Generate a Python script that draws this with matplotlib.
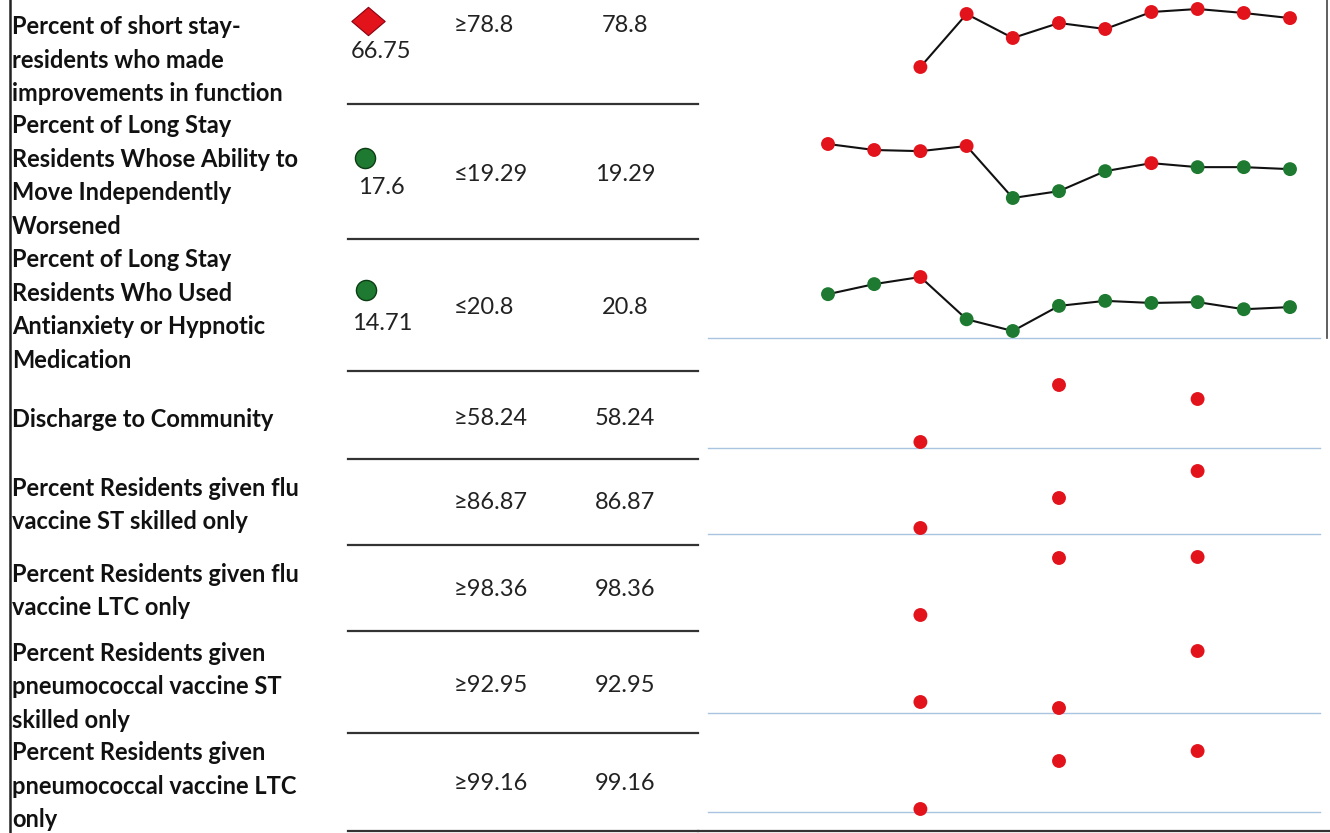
import numpy as np
import matplotlib
matplotlib.use("Agg")
import matplotlib.pyplot as plt
from matplotlib.path import Path

plt.rcParams['font.family'] = ['Lato', 'DejaVu Sans']

# 指标名称
measures = [
    "Percent of short stay-\nresidents who made\nimprovements in function",
    "Percent of Long Stay\nResidents Whose Ability to\nMove Independently\nWorsened",
    "Percent of Long Stay\nResidents Who Used\nAntianxiety or Hypnotic\nMedication",
    "Discharge to Community",
    "Percent Residents given flu\nvaccine ST skilled only",
    "Percent Residents given flu\nvaccine LTC only",
    "Percent Residents given\npneumococcal vaccine ST\nskilled only",
    "Percent Residents given\npneumococcal vaccine LTC\nonly",
]
current = ["66.75", "17.6", "14.71", "", "", "", "", ""]
status = ["bad", "good", "good", "", "", "", "", ""]
direction = [">=", "<=", "<=", ">=", ">=", ">=", ">=", ">="]
targets = [78.8, 19.29, 20.8, 58.24, 86.87, 98.36, 92.95, 99.16]
target_text = ["78.8", "19.29", "20.8", "58.24", "86.87", "98.36", "92.95", "99.16"]

nan = np.nan
# 每季度数值（11期）
trend_1 = [nan, nan, 42.3, 68.8, 56.8, 64.3, 61.3, 69.8, 71.3, 69.3, 66.75]
trend_2 = [26.4, 24.3, 23.9, 25.7, 7.5, 9.9, 16.9, 19.7, 18.3, 18.3, 17.6]
trend_3 = [17.8, 20.2, 21.9, 11.8, 9.0, 15.0, 16.2, 15.7, 15.9, 14.2, 14.71]
trend_4 = [nan, nan, 38.6, nan, nan, 50.0, nan, nan, 47.2, nan, nan]
trend_5 = [nan, nan, 78.3, nan, nan, 81.3, nan, nan, 84.0, nan, nan]
trend_6 = [nan, nan, 91.7, nan, nan, 97.4, nan, nan, 97.5, nan, nan]
trend_7 = [nan, nan, 84.9, nan, nan, 84.3, nan, nan, 90.0, nan, nan]
trend_8 = [nan, nan, 92.7, nan, nan, 97.5, nan, nan, 98.5, nan, nan]
trends = [trend_1, trend_2, trend_3, trend_4, trend_5, trend_6, trend_7, trend_8]
connected = [True, True, True, False, False, False, False, False]

RED = "#e3131c"
GREEN = "#1d7a30"

W, H = 1330, 833
fig = plt.figure(figsize=(W / 100, H / 100), dpi=100)
ax = fig.add_axes([0, 0, 1, 1])
ax.set_xlim(0, W)
ax.set_ylim(H, 0)
ax.axis("off")

# 表格布局（像素）
label_y = [60, 176, 310, 419, 505, 591, 687, 786]
target_y = [25, 174, 307, 418, 502, 589, 686, 783]
rules_y = [104, 239, 371, 459, 545, 631, 733, 831]
spark_band = [(9, 67), (144, 198), (277, 331), (385, 442),
              (471, 528), (557, 615), (651, 708), (751, 809)]
blue_lines = [338, 448, 534, 713, 812]

ax.plot([10, 10], [0, 833], color="#222222", lw=1.8)
ax.plot([1327, 1327], [0, 338], color="#444444", lw=1.2)
for y in rules_y:
    ax.plot([348, 698], [y, y], color="#333333", lw=1.6)
ax.plot([698, 1330], [831, 831], color="#333333", lw=1.6)
for y in blue_lines:
    ax.plot([708, 1320], [y, y], color="#a9c4e0", lw=1.0)

diamond = Path([(-1.0, 0), (0, 0.85), (1.0, 0), (0, -0.85), (-1.0, 0)],
               [Path.MOVETO, Path.LINETO, Path.LINETO, Path.LINETO, Path.CLOSEPOLY])

ind_xy = [(368, 21), (365, 158), (366, 290)]
val_xy = [(381, 51), (381, 187), (382, 323)]
for i in range(len(measures)):
    ax.text(12, label_y[i], measures[i], fontsize=17, fontweight="bold",
            ha="left", va="center", linespacing=1.55, color="#111111")
    sym = "\u2265" if direction[i] == ">=" else "\u2264"
    ax.text(454, target_y[i], sym + target_text[i], fontsize=17,
            ha="left", va="center", color="#222222")
    ax.text(625, target_y[i], target_text[i], fontsize=17,
            ha="center", va="center", color="#222222")
    if current[i]:
        if status[i] == "bad":
            ax.plot(*ind_xy[i], marker=diamond, ms=24, color=RED,
                    mec="#8a0010", mew=0.8)
        else:
            ax.plot(*ind_xy[i], marker="o", ms=14.5, color=GREEN,
                    mec="#0d3d15", mew=1.0)
        ax.text(*val_xy[i], current[i], fontsize=17, ha="center",
                va="center", color="#222222")

# 迷你趋势图
x0, x1 = 828, 1290
for i, vals in enumerate(trends):
    top, bot = spark_band[i]
    sax = fig.add_axes([x0 / W, 1 - bot / H, (x1 - x0) / W, (bot - top) / H])
    sax.axis("off")
    v = np.array(vals, dtype=float)
    idx = np.arange(len(v))
    sax.set_xlim(0, len(v) - 1)
    sax.set_ylim(np.nanmin(v), np.nanmax(v))
    if direction[i] == ">=":
        good = v >= targets[i]
    else:
        good = v <= targets[i]
    cols = [GREEN if g else RED for g in good]
    if connected[i]:
        sax.plot(idx, v, color="#111111", lw=1.5, clip_on=False, zorder=1)
    m = ~np.isnan(v)
    sax.scatter(idx[m], v[m], s=100, c=np.array(cols)[m], clip_on=False,
                zorder=2, linewidths=0)

fig.savefig("out.png", dpi=100)
